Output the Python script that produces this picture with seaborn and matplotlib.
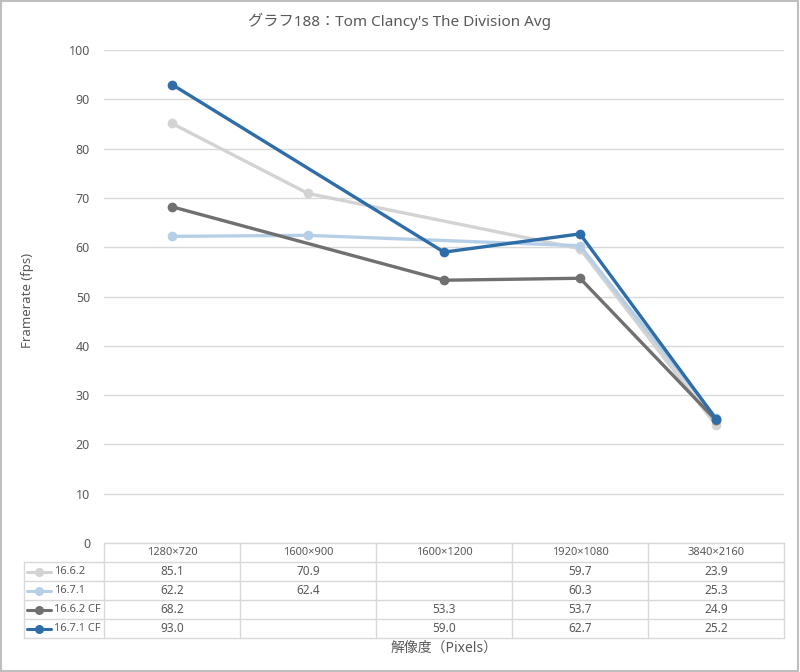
import numpy as np
import pandas as pd
import seaborn as sns
import matplotlib.pyplot as plt
from matplotlib.lines import Line2D

sns.set_theme(style="white")
plt.rcParams['font.family'] = ['Noto Sans', 'Noto Sans CJK JP', 'DejaVu Sans']

# data (NaN = no value in that column)
resolutions = ['1280×720', '1600×900', '1600×1200', '1920×1080', '3840×2160']
series_names = ['16.6.2', '16.7.1', '16.6.2 CF', '16.7.1 CF']
fps_1662 = [85.1, 70.9, np.nan, 59.7, 23.9]
fps_1671 = [62.2, 62.4, np.nan, 60.3, 25.3]
fps_1662cf = [68.2, np.nan, 53.3, 53.7, 24.9]
fps_1671cf = [93.0, np.nan, 59.0, 62.7, 25.2]
colors = ['#d3d3d3', '#b7cfe6', '#707070', '#2e6da8']

all_fps = [fps_1662, fps_1671, fps_1662cf, fps_1671cf]
rows = []
for name, vals in zip(series_names, all_fps):
    for i, v in enumerate(vals):
        rows.append({'series': name, 'idx': i, 'fps': v})
df = pd.DataFrame(rows).dropna()

W, H = 800, 672
fig = plt.figure(figsize=(W / 100, H / 100), dpi=100)
# plot area in pixels: x 104..784, y 50..543
ax = fig.add_axes([104 / W, 1 - 543 / H, 680 / W, 493 / H])

sns.lineplot(data=df, x='idx', y='fps', hue='series', hue_order=series_names,
             palette=colors, marker='o', markersize=7, markeredgewidth=0,
             linewidth=2.4, legend=False, sort=False, ax=ax)

ax.set_xlim(-0.5, 4.5)
ax.set_ylim(0, 100)
ax.set_yticks(range(0, 101, 10))
ax.yaxis.grid(True, color='#d9d9d9', linewidth=1)
ax.set_axisbelow(True)
ax.set_xticks([])
ax.set_xlabel('')
ax.set_ylabel('')
for s in ax.spines.values():
    s.set_visible(False)
ax.tick_params(axis='y', labelsize=9, colors='#595959', length=0, pad=10)

txt = '#595959'
grid_c = '#d9d9d9'

def fx(px):
    return px / W

def fy(py):
    return 1 - py / H

def hline(x0, x1, y):
    fig.add_artist(Line2D([fx(x0), fx(x1)], [fy(y), fy(y)], color=grid_c, lw=1))

def vline(x, y0, y1):
    fig.add_artist(Line2D([fx(x), fx(x)], [fy(y0), fy(y1)], color=grid_c, lw=1))

# data table under the plot
col_edges = [104 + 136 * i for i in range(6)]
row_h = 19
top = 543
hline(104, 784, top)
for r in range(1, 6):
    hline(24, 784, top + row_h * r)
for x in col_edges:
    vline(x, top, top + row_h * 5)
vline(24, top + row_h, top + row_h * 5)

for i, lab in enumerate(resolutions):
    cx = (col_edges[i] + col_edges[i + 1]) / 2
    fig.text(fx(cx), fy(top + row_h / 2), lab, ha='center', va='center',
             fontsize=8, color=txt)

for r, (name, vals, c) in enumerate(zip(series_names, all_fps, colors)):
    cy = top + row_h * (r + 1.5)
    fig.add_artist(Line2D([fx(27), fx(51)], [fy(cy), fy(cy)], color=c, lw=2.2))
    fig.add_artist(Line2D([fx(39)], [fy(cy)], color=c, marker='o',
                          markersize=6.5, markeredgewidth=0))
    fig.text(fx(54), fy(cy), name, ha='left', va='center', fontsize=8, color=txt)
    for i, v in enumerate(vals):
        if np.isnan(v):
            continue
        cx = (col_edges[i] + col_edges[i + 1]) / 2
        fig.text(fx(cx), fy(cy), f'{v:.1f}', ha='center', va='center',
                 fontsize=8.5, color=txt)

fig.text(0.5, fy(21), "グラフ188：Tom Clancy's The Division Avg", ha='center',
         va='center', fontsize=11, color=txt)
fig.text(fx(444), fy(648), '解像度（Pixels）', ha='center', va='center',
         fontsize=10, color=txt)
fig.text(fx(28), fy(300), 'Framerate (fps)', ha='center', va='center',
         rotation=90, fontsize=9.5, color=txt)

# outer border of the chart area
fig.add_artist(plt.Rectangle((0.001, 0.001), 0.997, 0.997, transform=fig.transFigure,
                             fill=False, edgecolor='#bfbfbf', lw=1.5))

fig.savefig('out.png', dpi=100)
